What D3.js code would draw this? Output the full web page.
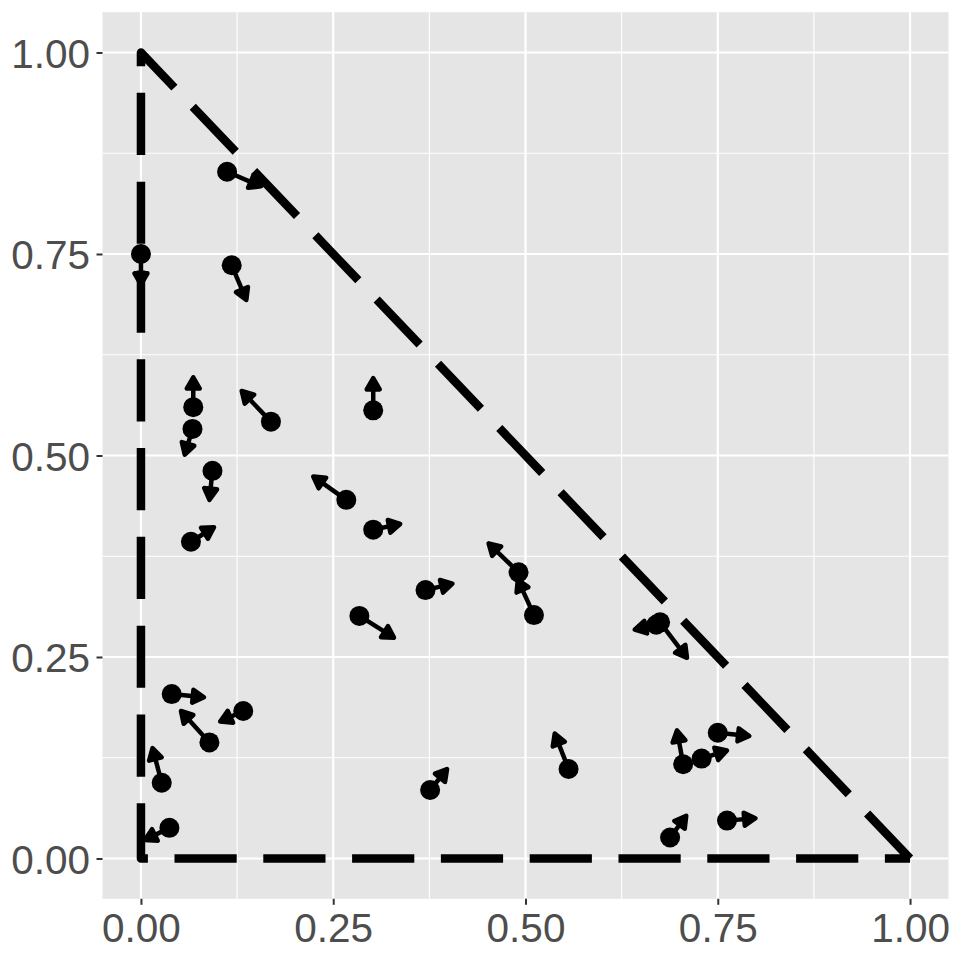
<!DOCTYPE html>
<html>
<head>
<meta charset="utf-8">
<script src="https://cdn.jsdelivr.net/npm/d3@7"></script>
<style>
  body { margin: 0; background: white; }
</style>
</head>
<body>
<svg id="chart"></svg>
<script>
// arrow start points and end points (data units)
const x0 = [0.112, 0.000, 0.118, 0.068, 0.067, 0.169, 0.302, 0.093, 0.065, 0.267, 0.302, 0.284, 0.370, 0.491, 0.511, 0.675, 0.670, 0.556, 0.705, 0.729, 0.750, 0.762, 0.688, 0.376, 0.040, 0.133, 0.089, 0.027, 0.037];
const y0 = [0.852, 0.750, 0.736, 0.560, 0.533, 0.542, 0.556, 0.481, 0.393, 0.445, 0.408, 0.301, 0.333, 0.355, 0.302, 0.293, 0.290, 0.111, 0.117, 0.124, 0.156, 0.047, 0.026, 0.085, 0.204, 0.183, 0.144, 0.094, 0.038];
const x1 = [0.156, 0.000, 0.137, 0.068, 0.057, 0.131, 0.302, 0.089, 0.095, 0.224, 0.337, 0.329, 0.405, 0.452, 0.490, 0.710, 0.642, 0.538, 0.697, 0.762, 0.791, 0.799, 0.709, 0.398, 0.082, 0.103, 0.052, 0.015, 0.005];
const y1 = [0.834, 0.712, 0.693, 0.597, 0.501, 0.580, 0.596, 0.445, 0.411, 0.474, 0.415, 0.274, 0.341, 0.391, 0.346, 0.249, 0.284, 0.155, 0.159, 0.134, 0.152, 0.050, 0.053, 0.111, 0.200, 0.170, 0.183, 0.137, 0.023];

const xTicks = [0, 0.25, 0.5, 0.75, 1];
const yTicks = [0, 0.25, 0.5, 0.75, 1];
const xMinor = [0.125, 0.375, 0.625, 0.875];
const yMinor = [0.125, 0.375, 0.625, 0.875];
// simplex outline: (1,0) -> (0,1) -> (0,0) -> back
const outline = [[1, 0], [0, 1], [0, 0], [1, 0]];

const width = 960, height = 960;
const panel = {left: 102.5, top: 12.2, right: 948.5, bottom: 898.8};

const svg = d3.select("#chart")
  .attr("width", width)
  .attr("height", height)
  .attr("viewBox", [0, 0, width, height])
  .style("font-family", "'Liberation Sans', Arial, sans-serif");

const x = d3.scaleLinear().domain([-0.05, 1.05]).range([panel.left, panel.right]);
const y = d3.scaleLinear().domain([-0.05, 1.05]).range([panel.bottom, panel.top]);

svg.append("rect")
  .attr("x", panel.left)
  .attr("y", panel.top)
  .attr("width", panel.right - panel.left)
  .attr("height", panel.bottom - panel.top)
  .attr("fill", "#E5E5E5");

const grid = svg.append("g");
grid.selectAll(".xminor").data(xMinor).join("line")
  .attr("x1", d => x(d)).attr("x2", d => x(d))
  .attr("y1", panel.top).attr("y2", panel.bottom)
  .attr("stroke", "white").attr("stroke-width", 1.1);
grid.selectAll(".yminor").data(yMinor).join("line")
  .attr("y1", d => y(d)).attr("y2", d => y(d))
  .attr("x1", panel.left).attr("x2", panel.right)
  .attr("stroke", "white").attr("stroke-width", 1.1);
grid.selectAll(".xmajor").data(xTicks).join("line")
  .attr("x1", d => x(d)).attr("x2", d => x(d))
  .attr("y1", panel.top).attr("y2", panel.bottom)
  .attr("stroke", "white").attr("stroke-width", 2.2);
grid.selectAll(".ymajor").data(yTicks).join("line")
  .attr("y1", d => y(d)).attr("y2", d => y(d))
  .attr("x1", panel.left).attr("x2", panel.right)
  .attr("stroke", "white").attr("stroke-width", 2.2);

// axes
const fmt = d3.format(".2f");
const xAxis = svg.append("g")
  .attr("transform", `translate(0,${panel.bottom})`)
  .call(d3.axisBottom(x).tickValues(xTicks).tickFormat(fmt).tickSize(6).tickPadding(8));
const yAxis = svg.append("g")
  .attr("transform", `translate(${panel.left},0)`)
  .call(d3.axisLeft(y).tickValues(yTicks).tickFormat(fmt).tickSize(6).tickPadding(6.5));
[xAxis, yAxis].forEach(a => {
  a.select(".domain").remove();
  a.selectAll(".tick line").attr("stroke", "#333333").attr("stroke-width", 2);
  a.selectAll(".tick text")
    .attr("fill", "#4D4D4D")
    .style("font-size", "40.5px")
    .style("font-family", "'Liberation Sans', Arial, sans-serif");
});
xAxis.selectAll(".tick text").attr("dy", "0.71em");
yAxis.selectAll(".tick text").attr("dy", "0.36em");

// dashed triangle
svg.append("path")
  .datum(outline)
  .attr("d", d3.line().x(d => x(d[0])).y(d => y(d[1])))
  .attr("fill", "none")
  .attr("stroke", "black")
  .attr("stroke-width", 8.5)
  .attr("stroke-dasharray", "62.2 26.6")
  .attr("stroke-linejoin", "round")
  .attr("stroke-linecap", "butt");

// arrows
const idx = d3.range(x0.length);
const headLen = 13, headAng = Math.PI / 6;
const arrows = svg.append("g");
arrows.selectAll("line").data(idx).join("line")
  .attr("x1", i => x(x0[i])).attr("y1", i => y(y0[i]))
  .attr("x2", i => x(x1[i])).attr("y2", i => y(y1[i]))
  .attr("stroke", "black")
  .attr("stroke-width", 4.5);
arrows.selectAll("path").data(idx).join("path")
  .attr("d", i => {
    const ex = x(x1[i]), ey = y(y1[i]);
    const a = Math.atan2(ey - y(y0[i]), ex - x(x0[i]));
    const p1 = [ex - headLen * Math.cos(a - headAng), ey - headLen * Math.sin(a - headAng)];
    const p2 = [ex - headLen * Math.cos(a + headAng), ey - headLen * Math.sin(a + headAng)];
    return `M${ex},${ey}L${p1[0]},${p1[1]}L${p2[0]},${p2[1]}Z`;
  })
  .attr("fill", "black")
  .attr("stroke", "black")
  .attr("stroke-width", 4.5)
  .attr("stroke-linejoin", "round");

// points
svg.append("g").selectAll("circle").data(idx).join("circle")
  .attr("cx", i => x(x0[i]))
  .attr("cy", i => y(y0[i]))
  .attr("r", 10)
  .attr("fill", "black");
</script>
</body>
</html>
